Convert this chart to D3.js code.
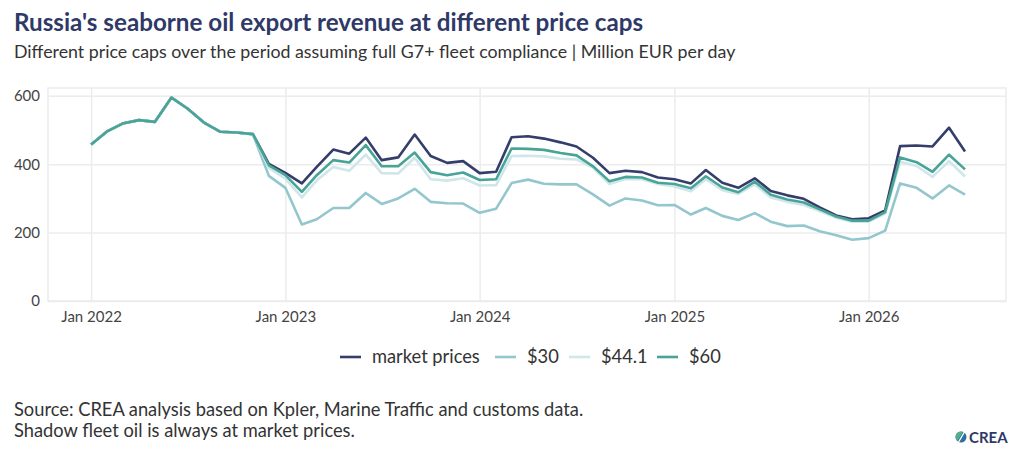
<!DOCTYPE html>
<html>
<head>
<meta charset="utf-8">
<script src="https://cdn.jsdelivr.net/npm/d3@7"></script>
<style>
  body { margin: 0; background: #fff; }
  text { font-family: "Source Sans Pro", Lato, "Noto Sans", sans-serif; }
</style>
</head>
<body>
<div id="chart"></div>
<script>
// monthly, Jan 2022 .. Jul 2026 (Million EUR per day)
const startMonth = "2022-01";
const marketPrices = [
  458, 497, 519, 529, 524, 595, 563, 522, 495, 493, 488, 401,
  375, 344, 392, 443, 431, 478, 412, 420, 487, 424, 404, 409,
  374, 378, 479, 482, 475, 464, 452, 419, 374, 381, 377, 361,
  356, 344, 383, 346, 331, 359, 322, 309, 299, 274, 250, 239,
  242, 265, 453, 455, 452, 507, 437
];
const cap30 = [
  458, 497, 519, 529, 524, 595, 563, 522, 495, 493, 488, 366,
  331, 224, 239, 272, 272, 316, 284, 300, 328, 290, 286, 285,
  258, 270, 345, 355, 343, 341, 341, 312, 279, 300, 294, 280,
  281, 253, 272, 249, 237, 257, 232, 219, 221, 204, 192, 179,
  184, 206, 344, 331, 300, 338, 311
];
const cap44 = [
  458, 497, 519, 529, 524, 595, 563, 522, 495, 493, 488, 389,
  358, 303, 353, 392, 381, 428, 374, 373, 419, 356, 352, 359,
  338, 339, 424, 425, 423, 416, 414, 390, 342, 357, 356, 342,
  335, 321, 356, 324, 313, 341, 303, 290, 281, 263, 243, 232,
  232, 256, 407, 395, 363, 409, 364
];
const cap60 = [
  458, 497, 519, 529, 524, 595, 563, 522, 495, 493, 488, 397,
  368, 319, 368, 412, 405, 456, 394, 394, 434, 377, 368, 376,
  354, 356, 446, 445, 442, 433, 426, 394, 350, 363, 361, 346,
  342, 330, 365, 332, 318, 349, 311, 297, 288, 268, 247, 235,
  235, 260, 420, 406, 378, 428, 385
];
const seriesNames = ["market prices", "$30", "$44.1", "$60"];
const seriesColors = ["#353e6b", "#93c7cd", "#cfe6ea", "#48a497"];
const yTicks = [0, 200, 400, 600];
const xTickYears = [2022, 2023, 2024, 2025, 2026];

const months = d3.timeMonths(d3.timeParse("%Y-%m")(startMonth), new Date(2026, 7, 1));
const series = [marketPrices, cap30, cap44, cap60].map((vals, i) => ({
  name: seriesNames[i],
  color: seriesColors[i],
  values: vals.map((v, j) => ({ date: months[j], value: v }))
}));

const W = 1024, H = 455;
const plot = { left: 48, right: 1006, top: 88, bottom: 301 };

const svg = d3.select("#chart").append("svg")
  .attr("width", W)
  .attr("height", H);

const x = d3.scaleTime()
  .domain([new Date(2021, 9, 12), new Date(2026, 8, 16)])
  .range([plot.left, plot.right]);

const y = d3.scaleLinear()
  .domain([0, 623])
  .range([plot.bottom, plot.top]);

// title + subtitle
svg.append("text")
  .attr("x", 14).attr("y", 31)
  .attr("font-size", "24.2px")
  .attr("font-weight", "bold")
  .attr("fill", "#2f3968")
  .text("Russia's seaborne oil export revenue at different price caps");

svg.append("text")
  .attr("x", 14).attr("y", 58)
  .attr("font-size", "17.8px")
  .attr("fill", "#333")
  .text("Different price caps over the period assuming full G7+ fleet compliance | Million EUR per day");

// frame + grid
svg.append("rect")
  .attr("x", plot.left).attr("y", plot.top)
  .attr("width", plot.right - plot.left)
  .attr("height", plot.bottom - plot.top)
  .attr("fill", "none")
  .attr("stroke", "#ececec")
  .attr("stroke-width", 1.5);

const gy = svg.append("g")
  .attr("transform", `translate(${plot.left},0)`)
  .call(d3.axisLeft(y).tickValues(yTicks).tickSize(-(plot.right - plot.left)).tickPadding(8));
gy.select(".domain").remove();
gy.selectAll(".tick line").attr("stroke", "#ececec").attr("stroke-width", 1.5);
gy.selectAll(".tick text").attr("font-size", "15px").attr("fill", "#444")
  .attr("font-family", "\"Source Sans Pro\", Lato, sans-serif");

const gx = svg.append("g")
  .attr("transform", `translate(0,${plot.bottom})`)
  .call(d3.axisBottom(x)
    .tickValues(xTickYears.map(yr => new Date(yr, 0, 1)))
    .tickFormat(d3.timeFormat("Jan %Y"))
    .tickSize(-(plot.bottom - plot.top))
    .tickPadding(10));
gx.select(".domain").remove();
gx.selectAll(".tick line").attr("stroke", "#ececec").attr("stroke-width", 1.5);
gx.selectAll(".tick text").attr("font-size", "15px").attr("fill", "#444")
  .attr("font-family", "\"Source Sans Pro\", Lato, sans-serif");

// lines
const line = d3.line()
  .x(d => x(d.date))
  .y(d => y(d.value));

svg.append("g").selectAll("path")
  .data(series)
  .join("path")
  .attr("fill", "none")
  .attr("stroke", d => d.color)
  .attr("stroke-width", 2.6)
  .attr("stroke-linejoin", "round")
  .attr("d", d => line(d.values));

// legend
const legendX = [340, 495, 569, 657];
const legend = svg.append("g").attr("transform", "translate(0,357)");
const item = legend.selectAll("g")
  .data(series)
  .join("g")
  .attr("transform", (d, i) => `translate(${legendX[i]},0)`);
item.append("line")
  .attr("x1", 0).attr("x2", 21)
  .attr("stroke", d => d.color)
  .attr("stroke-width", 2.6);
item.append("text")
  .attr("x", 32).attr("y", 6)
  .attr("font-size", "18.3px")
  .attr("fill", "#333")
  .text(d => d.name);

// footer
svg.append("text")
  .attr("x", 14).attr("y", 416)
  .attr("font-size", "18.3px")
  .attr("fill", "#333")
  .text("Source: CREA analysis based on Kpler, Marine Traffic and customs data.");
svg.append("text")
  .attr("x", 14).attr("y", 437)
  .attr("font-size", "18.3px")
  .attr("fill", "#333")
  .text("Shadow fleet oil is always at market prices.");

// logo
const logo = svg.append("g").attr("transform", "translate(955,431)");
logo.append("circle").attr("cx", 6).attr("cy", 6).attr("r", 5.5).attr("fill", "#2f6fa0");
logo.append("path").attr("d", "M0.5,6 A5.5,5.5 0 0 1 8,0.8 L2.5,10 A5.5,5.5 0 0 1 0.5,6 Z").attr("fill", "#55ae8a");
logo.append("line").attr("x1", 3).attr("y1", 12).attr("x2", 10).attr("y2", 0)
  .attr("stroke", "#fff").attr("stroke-width", 1.4);
logo.append("text")
  .attr("x", 14).attr("y", 11.5)
  .attr("font-size", "15px")
  .attr("font-weight", "bold")
  .attr("fill", "#2f3968")
  .text("CREA");
</script>
</body>
</html>
